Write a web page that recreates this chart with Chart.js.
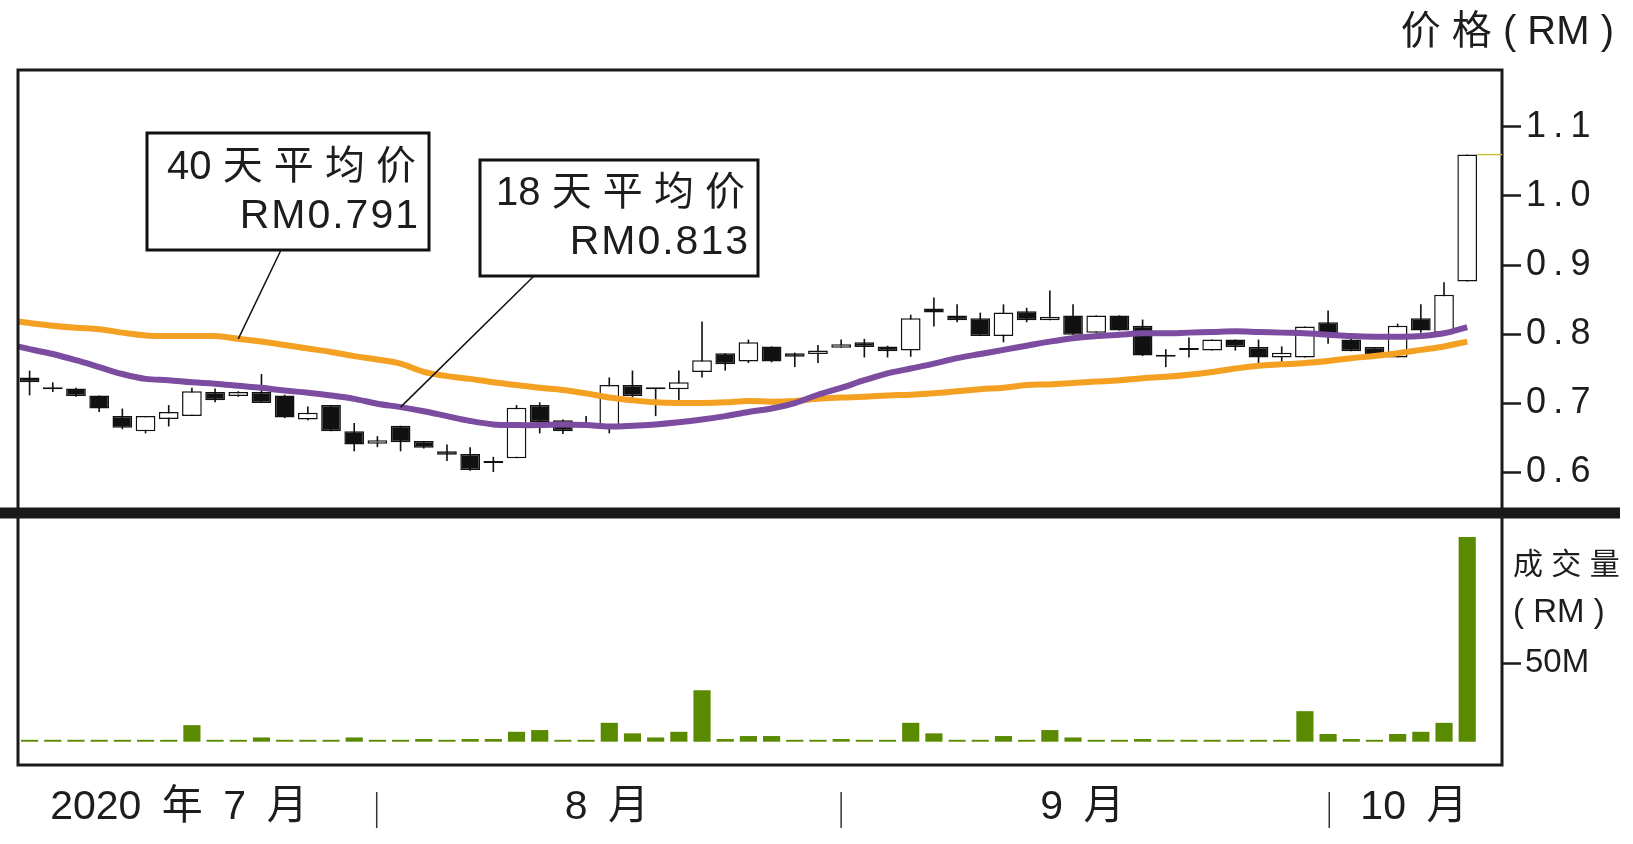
<!DOCTYPE html>
<html>
<head>
<meta charset="utf-8">
<script src="https://cdn.jsdelivr.net/npm/chart.js@4.4.1/dist/chart.umd.min.js"></script>
<style>
html,body{margin:0;padding:0;background:#fff;}
canvas{display:block;}
</style>
</head>
<body>
<canvas id="c" width="1633" height="844"></canvas>
<script>
const FONT = "'Liberation Sans', 'Noto Sans CJK SC', Arial, sans-serif";
const INK = '#1f1c1d';

// ---- data (RM), one entry per trading day ----
const opens  = [0.737,0.722,0.721,0.711,0.681,0.659,0.677,0.681,0.716,0.710,
                0.716,0.711,0.676,0.697,0.659,0.641,0.667,0.645,0.630,0.626,
                0.615,0.620,0.697,0.675,0.670,0.666,0.726,0.722,0.720,0.745,
                0.772,0.760,0.782,0.772,0.771,0.780,0.788,0.782,0.776,0.837,
                0.827,0.823,0.797,0.833,0.820,0.827,0.802,0.827,0.812,0.768,
                0.778,0.776,0.792,0.781,0.766,0.766,0.817,0.792,0.781,0.766,
                0.823,0.802,0.876];
const highs  = [0.747,0.730,0.722,0.711,0.692,0.681,0.697,0.722,0.721,0.717,
                0.742,0.712,0.695,0.697,0.671,0.652,0.667,0.645,0.640,0.636,
                0.622,0.697,0.701,0.676,0.681,0.737,0.747,0.722,0.747,0.818,
                0.772,0.792,0.782,0.773,0.784,0.792,0.793,0.783,0.828,0.853,
                0.843,0.831,0.843,0.838,0.863,0.843,0.827,0.827,0.821,0.778,
                0.795,0.792,0.792,0.792,0.782,0.811,0.834,0.793,0.781,0.815,
                0.843,0.875,1.060];
const lows   = [0.711,0.716,0.709,0.687,0.662,0.656,0.666,0.681,0.701,0.709,
                0.700,0.678,0.675,0.659,0.630,0.636,0.630,0.634,0.616,0.602,
                0.600,0.620,0.656,0.655,0.666,0.656,0.708,0.681,0.703,0.737,
                0.747,0.758,0.759,0.752,0.758,0.780,0.766,0.766,0.767,0.811,
                0.817,0.797,0.788,0.817,0.820,0.799,0.802,0.805,0.768,0.752,
                0.766,0.776,0.776,0.756,0.756,0.766,0.786,0.775,0.767,0.766,
                0.802,0.802,0.876];
const closes = [0.730,0.720,0.710,0.692,0.664,0.681,0.687,0.717,0.704,0.716,
                0.700,0.679,0.686,0.659,0.640,0.646,0.643,0.635,0.625,0.603,
                0.613,0.693,0.672,0.659,0.667,0.726,0.710,0.720,0.730,0.762,
                0.756,0.788,0.760,0.767,0.776,0.785,0.781,0.775,0.823,0.831,
                0.820,0.797,0.831,0.820,0.825,0.799,0.827,0.805,0.769,0.767,
                0.777,0.792,0.781,0.766,0.773,0.811,0.797,0.775,0.768,0.812,
                0.805,0.857,1.060];
// volume, millions of RM
const volumesM = [1.2,1.2,1.2,1.2,1.2,1.2,1.2,10.5,1.2,1.2,
                  2.7,1.2,1.2,1.2,2.7,1.2,1.2,1.7,1.2,1.7,
                  1.7,6.3,7.4,1.2,1.2,12.0,5.3,2.7,6.3,32.7,
                  1.7,3.6,3.6,1.2,1.2,1.7,1.2,1.2,12.0,5.3,
                  1.2,1.2,3.6,1.2,7.4,2.7,1.2,1.2,1.7,1.2,
                  1.2,1.2,1.2,1.2,1.2,19.4,4.9,1.7,1.2,4.9,
                  6.3,12.0,130.0];
// moving averages
const ma18 = [0.778,0.771,0.762,0.752,0.742,0.735,0.733,0.730,0.728,0.725,
              0.722,0.718,0.715,0.711,0.706,0.699,0.694,0.688,0.681,0.674,
              0.669,0.668,0.668,0.669,0.668,0.666,0.667,0.669,0.672,0.676,
              0.681,0.687,0.692,0.700,0.712,0.722,0.733,0.743,0.750,0.757,
              0.765,0.771,0.777,0.783,0.789,0.794,0.797,0.799,0.801,0.801,
              0.802,0.803,0.804,0.803,0.802,0.801,0.799,0.797,0.796,0.796,
              0.797,0.801,0.810];
const ma40 = [0.816,0.812,0.809,0.807,0.802,0.798,0.797,0.797,0.797,0.793,
              0.789,0.784,0.779,0.774,0.768,0.763,0.757,0.745,0.739,0.735,
              0.730,0.726,0.722,0.719,0.714,0.708,0.704,0.701,0.700,0.700,
              0.701,0.703,0.702,0.703,0.706,0.708,0.709,0.711,0.712,0.714,
              0.717,0.720,0.722,0.726,0.727,0.729,0.731,0.733,0.736,0.738,
              0.741,0.745,0.750,0.754,0.756,0.758,0.761,0.765,0.768,0.772,
              0.777,0.782,0.789];
const ma18LeftEdge = 0.782;
const ma40LeftEdge = 0.818;

// ticks & labels
const priceTicks = [0.6, 0.7, 0.8, 0.9, 1.0, 1.1];
const volumeTicks = [50];
const monthLabels = ['2020 年 7 月', '8 月', '9 月', '10 月'];
const monthLabelAt = [6.44, 24.9, 45.4, 59.7];
const monthBreaks = [14.97, 35.0, 56.05];

const spaced = s => s.split('').join('\u2009');
const wide = s => s.replace(/ /g, '\u2002');

const deco = {
  id: 'deco',
  afterDraw(chart) {
    const {ctx, chartArea: a, scales} = chart;
    const x = scales.x, y = scales.y;
    ctx.save();
    // frame
    ctx.strokeStyle = '#1a1a1a';
    ctx.lineWidth = 3;
    ctx.strokeRect(a.left, a.top, a.right - a.left, a.bottom - a.top);
    // thick panel separator
    ctx.fillStyle = '#1a1a1a';
    ctx.fillRect(0, y.bottom - 5.5, 1620, 11);
    // last price marker
    const last = closes.length - 1;
    const py = y.getPixelForValue(closes[last]);
    ctx.strokeStyle = '#c9bf3d';
    ctx.lineWidth = 1.5;
    ctx.beginPath();
    ctx.moveTo(x.getPixelForValue(last + 0.43), py);
    ctx.lineTo(a.right, py);
    ctx.stroke();
    // month separators
    ctx.strokeStyle = '#333';
    ctx.lineWidth = 1.5;
    monthBreaks.forEach(v => {
      const px = x.getPixelForValue(v);
      ctx.beginPath();
      ctx.moveTo(px, a.bottom + 27);
      ctx.lineTo(px, a.bottom + 63);
      ctx.stroke();
    });

    // annotation boxes with leader lines
    const box = (bx, by, bw, bh, l1, l2, l1x, l1y, l2x, l2y, fromX, toIdx, series) => {
      ctx.strokeStyle = '#111';
      ctx.lineWidth = 1.5;
      ctx.beginPath();
      ctx.moveTo(fromX, by + bh);
      ctx.lineTo(x.getPixelForValue(toIdx), y.getPixelForValue(series[toIdx]));
      ctx.stroke();
      ctx.fillStyle = '#fff';
      ctx.fillRect(bx, by, bw, bh);
      ctx.lineWidth = 3;
      ctx.strokeRect(bx, by, bw, bh);
      ctx.fillStyle = INK;
      ctx.font = '40px ' + FONT;
      ctx.textAlign = 'right';
      ctx.textBaseline = 'middle';
      ctx.fillText(l1, l1x, l1y);
      ctx.font = '41px ' + FONT;
      ctx.letterSpacing = '2px';
      ctx.fillText(l2, l2x + 2, l2y);
      ctx.letterSpacing = '0px';
    };
    box(147, 133, 282, 117, '40 天 平 均 价', 'RM0.791', 416, 168, 418, 217, 281, 9, ma40);
    box(480, 160, 278, 116, '18 天 平 均 价', 'RM0.813', 745, 194, 748, 243, 534, 16, ma18);

    // axis titles
    ctx.fillStyle = INK;
    ctx.textAlign = 'right';
    ctx.textBaseline = 'middle';
    ctx.font = '40px ' + FONT;
    ctx.fillText('价 格 ( RM )', 1614, 33);
    ctx.textAlign = 'left';
    ctx.font = '30px ' + FONT;
    ctx.fillText('成 交 量', 1513, 566);
    ctx.font = '33px ' + FONT;
    ctx.fillText('( RM )', 1513, 613);
    ctx.restore();
  }
};

new Chart(document.getElementById('c'), {
  type: 'bar',
  data: {
    datasets: [
      {
        type: 'line', label: '18天平均价',
        data: [{x: -0.5, y: ma18LeftEdge}].concat(ma18.map((v, i) => ({x: i, y: v}))),
        borderColor: '#7b4c9f', borderWidth: 6, pointRadius: 0, tension: 0.35,
        xAxisID: 'x', yAxisID: 'y', order: 0
      },
      {
        type: 'line', label: '40天平均价',
        data: [{x: -0.5, y: ma40LeftEdge}].concat(ma40.map((v, i) => ({x: i, y: v}))),
        borderColor: '#f4a022', borderWidth: 6, pointRadius: 0, tension: 0.35,
        xAxisID: 'x', yAxisID: 'y', order: 1
      },
      {
        type: 'bar', label: 'body',
        data: opens.map((o, i) => ({x: i, y: [o, closes[i]]})),
        backgroundColor: c => (closes[c.dataIndex] >= opens[c.dataIndex] ? '#ffffff' : '#111111'),
        borderColor: '#111111', borderWidth: 1.5, borderSkipped: false, minBarLength: 2,
        grouped: false, barPercentage: 0.85, categoryPercentage: 1,
        xAxisID: 'x', yAxisID: 'y', order: 2
      },
      {
        type: 'bar', label: 'wick',
        data: lows.map((l, i) => ({x: i, y: [l, highs[i]]})),
        backgroundColor: '#111111', borderWidth: 0,
        grouped: false, barPercentage: 0.07, categoryPercentage: 1,
        xAxisID: 'x', yAxisID: 'y', order: 3
      },
      {
        type: 'bar', label: '成交量',
        data: volumesM.map((v, i) => ({x: i, y: v})),
        backgroundColor: '#5a8a00', borderWidth: 0,
        grouped: false, barPercentage: 0.74, categoryPercentage: 1,
        xAxisID: 'x', yAxisID: 'yv', order: 4
      }
    ]
  },
  options: {
    responsive: false,
    animation: false,
    devicePixelRatio: 1,
    layout: {padding: {left: 18, top: 70, right: 0, bottom: 0}},
    plugins: {legend: {display: false}, tooltip: {enabled: false}},
    scales: {
      x: {
        type: 'linear', position: 'bottom', min: -0.5, max: 63.5, offset: false,
        grid: {display: false, drawTicks: false, offset: false},
        border: {display: false},
        afterBuildTicks: s => { s.ticks = monthLabelAt.map(v => ({value: v})); },
        ticks: {
          autoSkip: false, maxRotation: 0, minRotation: 0, padding: 18,
          color: INK, font: {family: FONT, size: 41},
          callback: (v, i) => wide(monthLabels[i])
        },
        afterFit: s => { s.height = 79; }
      },
      y: {
        type: 'linear', position: 'right', stack: 'panels', stackWeight: 443,
        min: 0.5406, max: 1.1826,
        grid: {drawOnChartArea: false, tickLength: 19, tickWidth: 2.5, tickColor: '#1a1a1a'},
        border: {display: false},
        afterBuildTicks: s => { s.ticks = priceTicks.map(v => ({value: v})); },
        ticks: {
          padding: 5, color: INK, font: {family: FONT, size: 36},
          callback: v => spaced(Number(v).toFixed(1))
        },
        afterFit: s => { s.width = 131; }
      },
      yv: {
        type: 'linear', position: 'right', stack: 'panels', stackWeight: 252,
        min: -14.8, max: 145.3,
        grid: {drawOnChartArea: false, tickLength: 19, tickWidth: 2.5, tickColor: '#1a1a1a'},
        border: {display: false},
        afterBuildTicks: s => { s.ticks = volumeTicks.map(v => ({value: v})); },
        ticks: {
          padding: 4, color: INK, font: {family: FONT, size: 33},
          callback: v => v + 'M'
        },
        afterFit: s => { s.width = 131; }
      }
    }
  },
  plugins: [deco]
});
</script>
</body>
</html>
